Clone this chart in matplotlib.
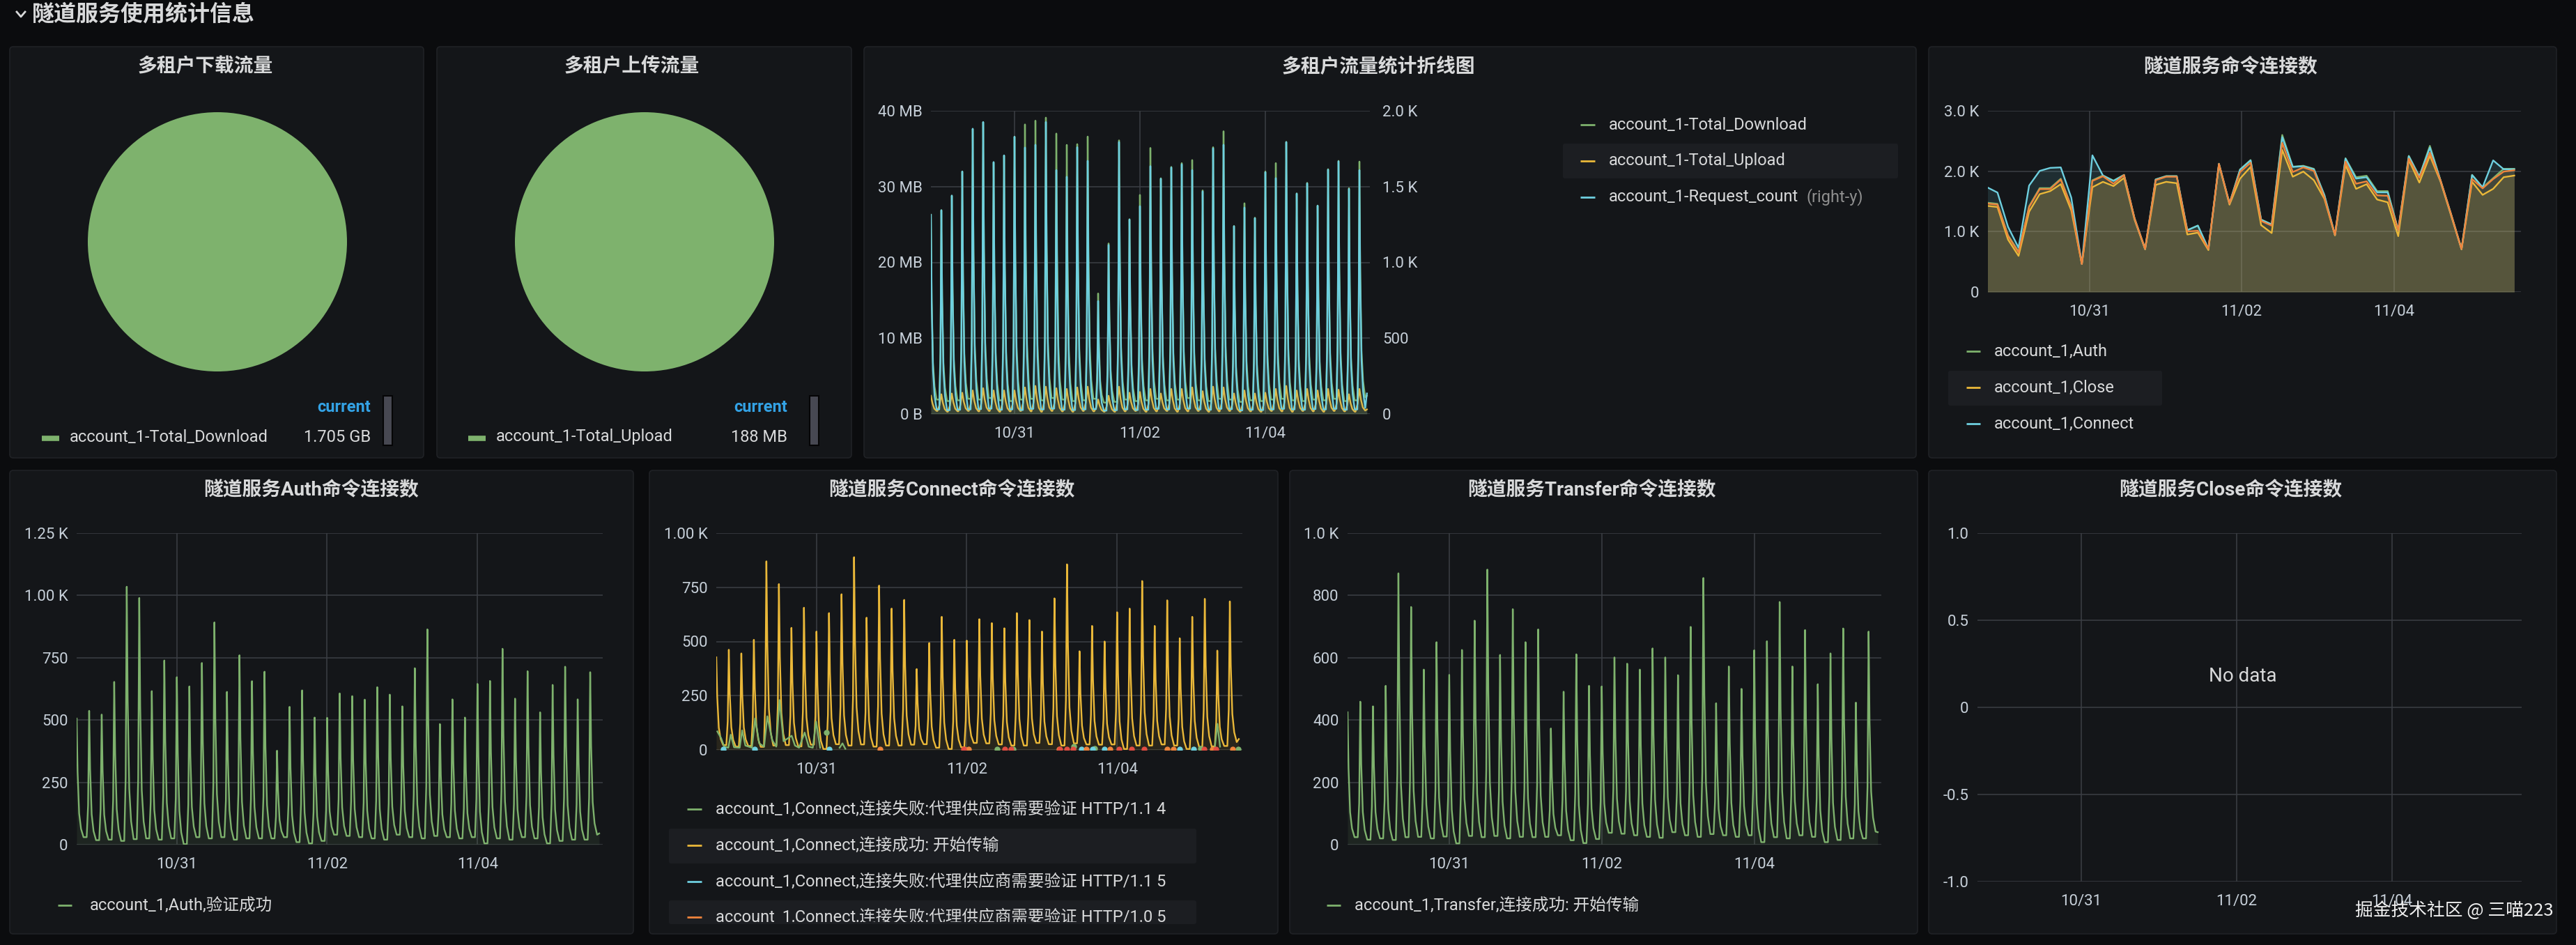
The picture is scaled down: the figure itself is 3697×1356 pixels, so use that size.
import numpy as np
import matplotlib
matplotlib.use("Agg")
import matplotlib.pyplot as plt
from matplotlib.patches import FancyBboxPatch, Rectangle
from matplotlib.lines import Line2D
from matplotlib.transforms import Bbox, TransformedBbox

# ======================= DATA =======================
X_TICKS = [0, 2, 4]                       # days after 10/31 00:00
X_LABELS = ['10/31', '11/02', '11/04']
X_RANGE = (-1.333, 5.667)

HEADER = '隧道服务使用统计信息'
TITLES = ['多租户下载流量', '多租户上传流量', '多租户流量统计折线图', '隧道服务命令连接数',
          '隧道服务Auth命令连接数', '隧道服务Connect命令连接数', '隧道服务Transfer命令连接数',
          '隧道服务Close命令连接数']

PIE_DOWN_LABEL = 'account_1-Total_Download'
PIE_DOWN_VALUE = [1.705]
PIE_DOWN_TEXT = '1.705 GB'
PIE_UP_LABEL = 'account_1-Total_Upload'
PIE_UP_VALUE = [188]
PIE_UP_TEXT = '188 MB'

# spiky series: one peak every 4 h, first at the start of the data
SPIKE_START = -1.333
SPIKE_PERIOD_H = 4.0
DATA_END = 5.62
SPIKE_OFF_H = [-0.8, -0.35, 0.0, 0.3, 0.8, 1.4, 2.2]
SPIKE_FRAC = [0.0, 0.25, 1.0, 0.55, 0.2, 0.07, 0.0]
UP_OFF_H = [-1.5, -0.7, 0.0, 0.6, 1.3, 2.2]
UP_FRAC = [0.0, 0.35, 1.0, 0.5, 0.15, 0.0]

# panel 3 : traffic
P3_LEGEND = ['account_1-Total_Download', 'account_1-Total_Upload', 'account_1-Request_count']
P3_DL_PEAKS = [26.3, 26.9, 28.8, 32.0, 37.6, 38.5, 33.2, 34.1, 36.6, 38.2, 38.7, 39.1, 37.0, 35.5,
               35.6, 36.6, 15.9, 22.5, 36.1, 25.7, 28.9, 35.1, 31.1, 32.6, 33.1, 33.5, 29.5, 35.2,
               37.3, 24.8, 27.8, 25.9, 32.0, 33.1, 35.9, 29.1, 30.5, 27.5, 32.3, 33.4, 29.8, 33.3]
P3_DL_TROUGHS = [1.9, 1.7, 1.8, 2.0, 1.9, 2.1, 1.8, 1.7, 1.9, 2.0, 1.8, 2.1, 1.9, 1.7, 1.8, 2.0,
                 1.5, 1.6, 1.9, 1.7, 1.8, 2.0, 1.8, 1.9, 2.1, 1.8, 1.7, 2.0, 1.9, 1.6, 1.8, 1.7,
                 1.9, 2.0, 1.8, 1.7, 1.9, 1.8, 2.0, 1.7, 1.8, 2.2]
P3_DL_END = 2.4
P3_UP_PEAKS = [2.4, 2.6, 2.7, 2.8, 3.1, 3.4, 3.1, 3.1, 3.1, 3.5, 3.7, 3.6, 3.4, 3.3, 3.5, 3.6,
               1.9, 2.4, 3.6, 2.8, 2.9, 3.3, 2.7, 3.3, 3.3, 3.5, 3.0, 3.6, 3.5, 2.7, 3.1, 2.7,
               2.8, 3.3, 3.7, 3.1, 3.3, 3.1, 3.3, 3.2, 2.6, 3.3]
P3_UP_TROUGHS = [0.4, 0.3, 0.35, 0.4, 0.35, 0.4, 0.3, 0.35, 0.4, 0.35, 0.3, 0.4, 0.35, 0.3, 0.4,
                 0.35, 0.3, 0.3, 0.35, 0.4, 0.3, 0.35, 0.4, 0.3, 0.35, 0.4, 0.3, 0.35, 0.4, 0.3,
                 0.35, 0.3, 0.4, 0.35, 0.3, 0.4, 0.35, 0.3, 0.4, 0.35, 0.3, 0.45]
P3_UP_END = 0.6
P3_REQ_PEAKS = [1313, 1344, 1441, 1600, 1882, 1926, 1662, 1706, 1829, 1758, 1776, 1926, 1609, 1565,
                1760, 1670, 745, 1115, 1794, 1283, 1371, 1635, 1552, 1626, 1647, 1609, 1468, 1753,
                1776, 1239, 1362, 1292, 1595, 1556, 1794, 1454, 1521, 1374, 1612, 1667, 1485, 1609]
P3_REQ_TROUGHS = [30, 25, 28, 30, 32, 35, 28, 30, 26, 34, 30, 35, 28, 26, 30, 32, 22, 25, 30, 26, 28,
                  34, 30, 32, 35, 30, 28, 34, 32, 24, 28, 26, 30, 34, 30, 28, 32, 30, 34, 28, 30, 40]
P3_REQ_END = 135
P3_LEFT_TICKS = [0, 10, 20, 30, 40]
P3_LEFT_LABELS = ['0 B', '10 MB', '20 MB', '30 MB', '40 MB']
P3_RIGHT_TICKS = [0, 500, 1000, 1500, 2000]
P3_RIGHT_LABELS = ['0', '500', '1.0 K', '1.5 K', '2.0 K']

# panel 4 : aggregated command counts (one sample every ~3.3 h)
P4_START = -1.346
P4_STEP_H = 3.324
P4_LEGEND = ['account_1,Auth', 'account_1,Close', 'account_1,Connect']
P4_AUTH = [1480, 1460, 940, 670, 1420, 1720, 1720, 1875, 1420, 470, 1850, 1930, 1845, 1940, 1220,
           715, 1865, 1920, 1920, 1025, 1100, 715, 2125, 1470, 2030, 2185, 1200, 1120, 2600, 2075,
           2090, 2040, 1605, 950, 2215, 1900, 1925, 1670, 1670, 1025, 2255, 1915, 2420, 1855, 1295,
           715, 1940, 1730, 1885, 2040, 2040]
P4_CLOSE = [1427, 1407, 868, 598, 1330, 1620, 1670, 1785, 1350, 463, 1735, 1824, 1754, 1889, 1195,
            706, 1774, 1824, 1801, 952, 983, 694, 2109, 1446, 1878, 2071, 1107, 976, 2352, 1909,
            1994, 1851, 1542, 937, 2101, 1708, 1785, 1531, 1485, 925, 2186, 1812, 2256, 1832, 1272,
            706, 1824, 1608, 1708, 1901, 1928]
P4_CONNECT = [1735, 1647, 1080, 733, 1762, 2005, 2055, 2063, 1562, 463, 2263, 1928, 1839, 1936, 1215,
              713, 1862, 1916, 1916, 1022, 1099, 713, 2121, 1465, 2024, 2179, 1195, 1118, 2564, 2071,
              2082, 2032, 1600, 945, 2209, 1878, 1901, 1650, 1650, 1022, 2248, 1909, 2391, 1851, 1292,
              713, 1936, 1735, 2179, 2032, 2032]
P4_TRANSFER = [1465, 1446, 925, 656, 1407, 1704, 1704, 1862, 1407, 463, 1839, 1916, 1793, 1936, 1215,
               713, 1851, 1909, 1909, 1003, 1014, 713, 2121, 1465, 1986, 2140, 1176, 1099, 2468, 1986,
               2063, 2005, 1562, 945, 2159, 1793, 1832, 1600, 1593, 1022, 2209, 1889, 2306, 1851, 1292,
               713, 1870, 1716, 1870, 1994, 2017]
P4_TICKS = [0, 1000, 2000, 3000]
P4_LABELS = ['0', '1.0 K', '2.0 K', '3.0 K']

# panel 5 : Auth
P5_LEGEND = 'account_1,Auth,验证成功'
P5_PEAKS = [506, 537, 522, 653, 1035, 990, 616, 739, 672, 635, 729, 892, 613, 760, 656, 694, 377,
            553, 619, 510, 509, 607, 596, 582, 632, 602, 555, 708, 864, 484, 583, 510, 645, 657,
            786, 586, 696, 531, 641, 714, 583, 692]
P5_TROUGHS = [30, 18, 20, 15, 22, 25, 20, 25, 2, 30, 25, 30, 20, 25, 25, 25, 30, 10, 5, 15, 40, 35,
              30, 25, 20, 40, 30, 25, 35, 30, 25, 30, 5, 25, 20, 30, 25, 5, 15, 20, 20, 40]
P5_END = 45
P5_TICKS = [0, 250, 500, 750, 1000, 1250]
P5_LABELS = ['0', '250', '500', '750', '1.00 K', '1.25 K']

# panel 6 : Connect
P6_LEGEND = ['account_1,Connect,连接失败:代理供应商需要验证 HTTP/1.1 4',
             'account_1,Connect,连接成功: 开始传输',
             'account_1,Connect,连接失败:代理供应商需要验证 HTTP/1.1 5',
             'account_1,Connect,连接失败:代理供应商需要验证 HTTP/1.0 5']
P6_OK_PEAKS = [427, 462, 445, 508, 870, 765, 563, 656, 546, 631, 718, 889, 610, 758, 652, 692, 373,
               493, 614, 508, 504, 603, 585, 561, 631, 599, 546, 699, 856, 455, 572, 500, 635, 652,
               779, 572, 690, 515, 614, 697, 458, 685]
P6_OK_TROUGHS = [22, 15, 18, 14, 20, 22, 16, 24, 4, 26, 20, 25, 15, 20, 20, 24, 26, 10, 4, 12, 32,
                 30, 25, 20, 20, 32, 26, 20, 30, 25, 24, 25, 4, 20, 20, 25, 20, 4, 14, 16, 18, 36]
P6_OK_END = 50
P6_F4_T = [-1.319, -1.270, -1.227, -1.173, -1.141, -1.097, -1.022, -0.989, -0.946, -0.859, -0.816,
           -0.762, -0.697, -0.654, -0.589, -0.535, -0.492, -0.438, -0.330, -0.286, -0.232, -0.157,
           -0.103, -0.049, -0.005, 0.049, np.nan, 0.308, 0.346, 0.384, np.nan, 5.30, 5.335, 5.37]
P6_F4_V = [85, 55, 15, 10, 70, 12, 10, 90, 20, 10, 145, 30, 15, 155, 45, 15, 230, 40, 65, 20, 10,
           80, 15, 10, 130, 10, np.nan, 10, 30, 5, np.nan, 10, 120, 15]
P6_F4_DOT_T = [0.130, 2.400, 2.616, 3.427, 3.697, 5.114, 5.616]
P6_F4_DOT_V = [80, 4, 4, 15, 6, 6, 4]
P6_F5_DOT_T = [-1.238, -0.827, 0.173, 3.524, 3.670, 3.832, 4.832, 5.022]
P6_F5_DOT_V = [2, 2, 2, 3, 3, 3, 3, 3]
P6_F10_DOT_T = [0.849, 1.968, 2.022, 3.227, 3.589, 3.903, 4.670, 4.751, 5.265, 5.535]
P6_F10_DOT_V = [3, 3, 3, 3, 3, 3, 3, 3, 3, 3]
P6_RED_DOT_T = [1.957, 2.508, 2.589, 3.238, 3.330, 3.411, 4.022, 4.195, 4.357, 5.157, 5.319]
P6_RED_DOT_V = [3, 3, 3, 3, 3, 3, 3, 3, 3, 3, 3]
P6_TICKS = [0, 250, 500, 750, 1000]
P6_LABELS = ['0', '250', '500', '750', '1.00 K']

# panel 7 : Transfer
P7_LEGEND = 'account_1,Transfer,连接成功: 开始传输'
P7_PEAKS = [425, 459, 444, 510, 871, 763, 562, 650, 545, 625, 719, 883, 609, 756, 650, 691, 373,
            491, 611, 510, 508, 601, 581, 562, 630, 601, 544, 699, 856, 454, 572, 500, 624, 653,
            779, 572, 689, 515, 614, 694, 456, 684]
P7_TROUGHS = [24, 16, 20, 15, 24, 25, 20, 26, 4, 28, 24, 28, 20, 25, 24, 25, 30, 14, 5, 18, 38, 35,
              30, 25, 22, 40, 30, 25, 34, 30, 25, 30, 8, 24, 20, 30, 25, 8, 15, 20, 20, 42]
P7_END = 40
P7_TICKS = [0, 200, 400, 600, 800, 1000]
P7_LABELS = ['0', '200', '400', '600', '800', '1.0 K']

# panel 8 : Close (no data)
P8_TICKS = [-1.0, -0.5, 0, 0.5, 1.0]
P8_LABELS = ['-1.0', '-0.5', '0', '0.5', '1.0']

WATERMARK = '掘金技术社区 @ 三喵223'

# ======================= STYLE =======================
W, H, DPI = 3698, 1356, 100
BG = '#0b0c0e'
PANEL = '#141619'
PANEL_EDGE = '#202226'
HILITE = '#1c1e22'
TXT = '#d8d9da'
TICK = '#c7d0d9'
GRID = '#3c3f45'
GREEN, YELLOW, CYAN, ORANGE, RED = '#7eb26d', '#eab839', '#6ed0e0', '#ef843c', '#e24d42'
LW = 1.7
FS_TICK, FS_LEG, FS_TITLE, FS_HEAD = 16, 17, 20, 23

plt.rcParams['font.family'] = ['Roboto', 'Noto Sans CJK SC', 'DejaVu Sans']

fig = plt.figure(figsize=(W / DPI, H / DPI), dpi=DPI, facecolor=BG)


def ftext(x, y, s, **kw):
    return fig.text(x / W, 1 - y / H, s, **kw)


def panel(l, t, r, b):
    p = FancyBboxPatch((l / DPI, (H - b) / DPI), (r - l) / DPI, (b - t) / DPI,
                       boxstyle='round,pad=0,rounding_size=0.05',
                       transform=fig.dpi_scale_trans, fc=PANEL, ec=PANEL_EDGE, lw=1.2, zorder=-10)
    fig.add_artist(p)


def frect(l, t, r, b, color, z=-8, ec='none', lw=0):
    p = Rectangle((l / DPI, (H - b) / DPI), (r - l) / DPI, (b - t) / DPI,
                  transform=fig.dpi_scale_trans, fc=color, ec=ec, lw=lw, zorder=z)
    fig.add_artist(p)


def hilite(l, t, r, b):
    fig.add_artist(FancyBboxPatch((l / DPI, (H - b) / DPI), (r - l) / DPI, (b - t) / DPI,
                                  boxstyle='round,pad=0,rounding_size=0.03',
                                  transform=fig.dpi_scale_trans, fc=HILITE, ec='none', zorder=-8))


def fline(x1, x2, y, color, lw=2.0):
    fig.add_artist(Line2D([x1 / W, x2 / W], [1 - y / H, 1 - y / H], color=color, lw=lw,
                          solid_capstyle='butt'))


def add_ax(l, t, r, b):
    return fig.add_axes([l / W, 1 - b / H, (r - l) / W, (b - t) / H])


def style_ax(ax, yticks, ylabels, ylim):
    ax.set_facecolor('none')
    for s in ax.spines.values():
        s.set_visible(False)
    ax.set_xlim(*X_RANGE)
    ax.set_ylim(*ylim)
    ax.set_xticks(X_TICKS)
    ax.set_xticklabels(X_LABELS)
    ax.set_yticks(yticks)
    ax.set_yticklabels(ylabels)
    ax.tick_params(length=0, labelsize=FS_TICK, colors=TICK)
    ax.tick_params(axis='x', pad=13)
    ax.tick_params(axis='y', pad=9)
    ax.grid(True, color=GRID, lw=1.1)
    ax.set_axisbelow(True)


def spikes(peaks, troughs, end_val, off_h, frac):
    t, v = [], []
    for k, pk in enumerate(peaks):
        tp = SPIKE_START + k * SPIKE_PERIOD_H / 24.0
        for off, f in zip(off_h, frac):
            tt = tp + off / 24.0
            if tt < SPIKE_START - 1e-9 or tt > DATA_END:
                continue
            base = troughs[k - 1] if (off < 0 and k > 0) else troughs[k]
            t.append(tt)
            v.append(base + (pk - base) * f)
    t.append(DATA_END)
    v.append(end_val)
    return np.array(t), np.array(v)


def draw(ax, t, v, color, fill=0.1, z=2):
    ax.plot(t, v, color=color, lw=LW, zorder=z)
    ax.fill_between(t, 0, v, color=color, alpha=fill, lw=0, zorder=z - 0.5)


# ======================= LAYOUT =======================
# header
fig.add_artist(Line2D([24 / W, 30 / W, 36 / W], [1 - 17 / H, 1 - 24 / H, 1 - 17 / H],
                      color=TXT, lw=2.0))
ftext(46, 21, HEADER, fontsize=FS_HEAD, fontweight='bold', color=TXT, va='center', ha='left')

PANELS = [(14, 67, 608, 657), (627, 67, 1222, 657), (1240, 67, 2750, 657), (2768, 67, 3669, 657),
          (14, 675, 909, 1340), (932, 675, 1834, 1340), (1851, 675, 2752, 1340),
          (2768, 675, 3669, 1340)]
TITLE_POS = [(295, 96), (907, 96), (1978, 96), (3201, 96), (447, 703), (1366, 703), (2284, 703),
             (3201, 703)]
for (l, t, r, b) in PANELS:
    panel(l, t, r, b)
for (x, y), s in zip(TITLE_POS, TITLES):
    ftext(x, y, s, fontsize=FS_TITLE, fontweight='bold', color=TXT, ha='center', va='center')

# ---- pies ----
for (cx, lab, val, vtxt, leg_x, val_r, sb_x) in [
        (312, PIE_DOWN_LABEL, PIE_DOWN_VALUE, PIE_DOWN_TEXT, 60, 532, 550),
        (925, PIE_UP_LABEL, PIE_UP_VALUE, PIE_UP_TEXT, 672, 1130, 1162)]:
    r = 186
    axp = add_ax(cx - r, 347 - r, cx + r, 347 + r)
    axp.pie(val, colors=[GREEN], radius=1.0, startangle=90, counterclock=False,
            wedgeprops=dict(lw=0))
    axp.set_xlim(-1, 1)
    axp.set_ylim(-1, 1)
    axp.axis('off')
    fline(leg_x, leg_x + 25, 629, GREEN, lw=5.5)
    ftext(leg_x + 40, 627, lab, fontsize=FS_LEG, color=TXT, va='center', ha='left')
    ftext(val_r, 627, vtxt, fontsize=FS_LEG, color=TXT, va='center', ha='right')
    ftext(val_r, 585, 'current', fontsize=FS_LEG, color='#33a2e5', fontweight='bold',
          va='center', ha='right')
    frect(sb_x, 568, sb_x + 13, 639, '#474852', z=-7, ec='#050506', lw=1.5)

# ---- panel 3 ----
ax3 = add_ax(1336, 159, 1966, 594)
style_ax(ax3, P3_LEFT_TICKS, P3_LEFT_LABELS, (0, 40))
ax3r = ax3.twinx()
ax3r.set_facecolor('none')
for s in ax3r.spines.values():
    s.set_visible(False)
ax3r.set_ylim(0, 2000)
ax3r.set_yticks(P3_RIGHT_TICKS)
ax3r.set_yticklabels(P3_RIGHT_LABELS)
ax3r.tick_params(length=0, labelsize=FS_TICK, colors=TICK, pad=13)
t, v = spikes(P3_DL_PEAKS, P3_DL_TROUGHS, P3_DL_END, SPIKE_OFF_H, SPIKE_FRAC)
draw(ax3, t, v, GREEN)
t, v = spikes(P3_UP_PEAKS, P3_UP_TROUGHS, P3_UP_END, UP_OFF_H, UP_FRAC)
draw(ax3, t, v, YELLOW, z=3)
t, v = spikes(P3_REQ_PEAKS, P3_REQ_TROUGHS, P3_REQ_END, SPIKE_OFF_H, SPIKE_FRAC)
draw(ax3r, t, v, CYAN)
hilite(2243, 206, 2724, 256)
for y, lab, c in zip([179, 231, 283], P3_LEGEND, [GREEN, YELLOW, CYAN]):
    fline(2268, 2289, y, c)
    ftext(2309, y, lab, fontsize=FS_LEG, color=TXT, va='center', ha='left')
ftext(2593, 283, '(right-y)', fontsize=FS_LEG, color='#8e8e8e', va='center', ha='left')

# ---- panel 4 ----
ax4 = add_ax(2853, 159, 3618, 419)
style_ax(ax4, P4_TICKS, P4_LABELS, (0, 3000))
t4 = P4_START + np.arange(len(P4_CONNECT)) * P4_STEP_H / 24.0
for vals, c in [(P4_AUTH, GREEN), (P4_CLOSE, YELLOW), (P4_CONNECT, CYAN), (P4_TRANSFER, ORANGE)]:
    draw(ax4, t4, np.array(vals), c, fill=0.13)
hilite(2796, 532, 3103, 582)
for y, lab, c in zip([504, 556, 608], P4_LEGEND, [GREEN, YELLOW, CYAN]):
    fline(2822, 2842, y, c)
    ftext(2862, y, lab, fontsize=FS_LEG, color=TXT, va='center', ha='left')

# ---- panel 5 ----
ax5 = add_ax(110, 765, 865, 1212)
style_ax(ax5, P5_TICKS, P5_LABELS, (0, 1250))
t, v = spikes(P5_PEAKS, P5_TROUGHS, P5_END, SPIKE_OFF_H, SPIKE_FRAC)
draw(ax5, t, v, GREEN)
fline(83, 103, 1299, GREEN)
ftext(129, 1299, P5_LEGEND, fontsize=FS_LEG, color=TXT, va='center', ha='left')

# ---- panel 6 ----
ax6 = add_ax(1028, 765, 1783, 1076)
style_ax(ax6, P6_TICKS, P6_LABELS, (0, 1000))
t, v = spikes(P6_OK_PEAKS, P6_OK_TROUGHS, P6_OK_END, SPIKE_OFF_H, SPIKE_FRAC)
draw(ax6, t, v, YELLOW)
ax6.plot(P6_F4_T, P6_F4_V, color=GREEN, lw=LW, zorder=3)
ax6.plot(P6_F4_DOT_T, P6_F4_DOT_V, 'o', color=GREEN, ms=5, zorder=4)
ax6.plot(P6_F5_DOT_T, P6_F5_DOT_V, 'o', color=CYAN, ms=5, zorder=4)
ax6.plot(P6_F10_DOT_T, P6_F10_DOT_V, 'o', color=ORANGE, ms=5, zorder=4)
ax6.plot(P6_RED_DOT_T, P6_RED_DOT_V, 'o', color=RED, ms=5, zorder=4)
hilite(960, 1189, 1717, 1239)
hilite(960, 1292, 1717, 1326)
clip = TransformedBbox(Bbox.from_extents(0, (H - 1323) / DPI, W / DPI, H / DPI),
                       fig.dpi_scale_trans)
for y, lab, c in zip([1161, 1213, 1265, 1316], P6_LEGEND, [GREEN, YELLOW, CYAN, ORANGE]):
    fline(986, 1007, y, c)
    tx = ftext(1027, y, lab, fontsize=FS_LEG, color=TXT, va='center', ha='left')
    tx.set_clip_box(clip)
    tx.set_clip_on(True)

# ---- panel 7 ----
ax7 = add_ax(1934, 765, 2700, 1212)
style_ax(ax7, P7_TICKS, P7_LABELS, (0, 1000))
t, v = spikes(P7_PEAKS, P7_TROUGHS, P7_END, SPIKE_OFF_H, SPIKE_FRAC)
draw(ax7, t, v, GREEN)
fline(1904, 1924, 1299, GREEN)
ftext(1944, 1299, P7_LEGEND, fontsize=FS_LEG, color=TXT, va='center', ha='left')

# ---- panel 8 ----
ax8 = add_ax(2838, 765, 3619, 1265)
style_ax(ax8, P8_TICKS, P8_LABELS, (-1, 1))
ax8.text(0.488, 0.59, 'No data', transform=ax8.transAxes, fontsize=20, color=TXT,
         ha='center', va='center')

ftext(3665, 1307, WATERMARK, fontsize=18.5, color='#f0f0f0', ha='right', va='center',
      family=['Noto Sans CJK SC', 'DejaVu Sans'])

fig.savefig('out.png', dpi=DPI, facecolor=BG)
